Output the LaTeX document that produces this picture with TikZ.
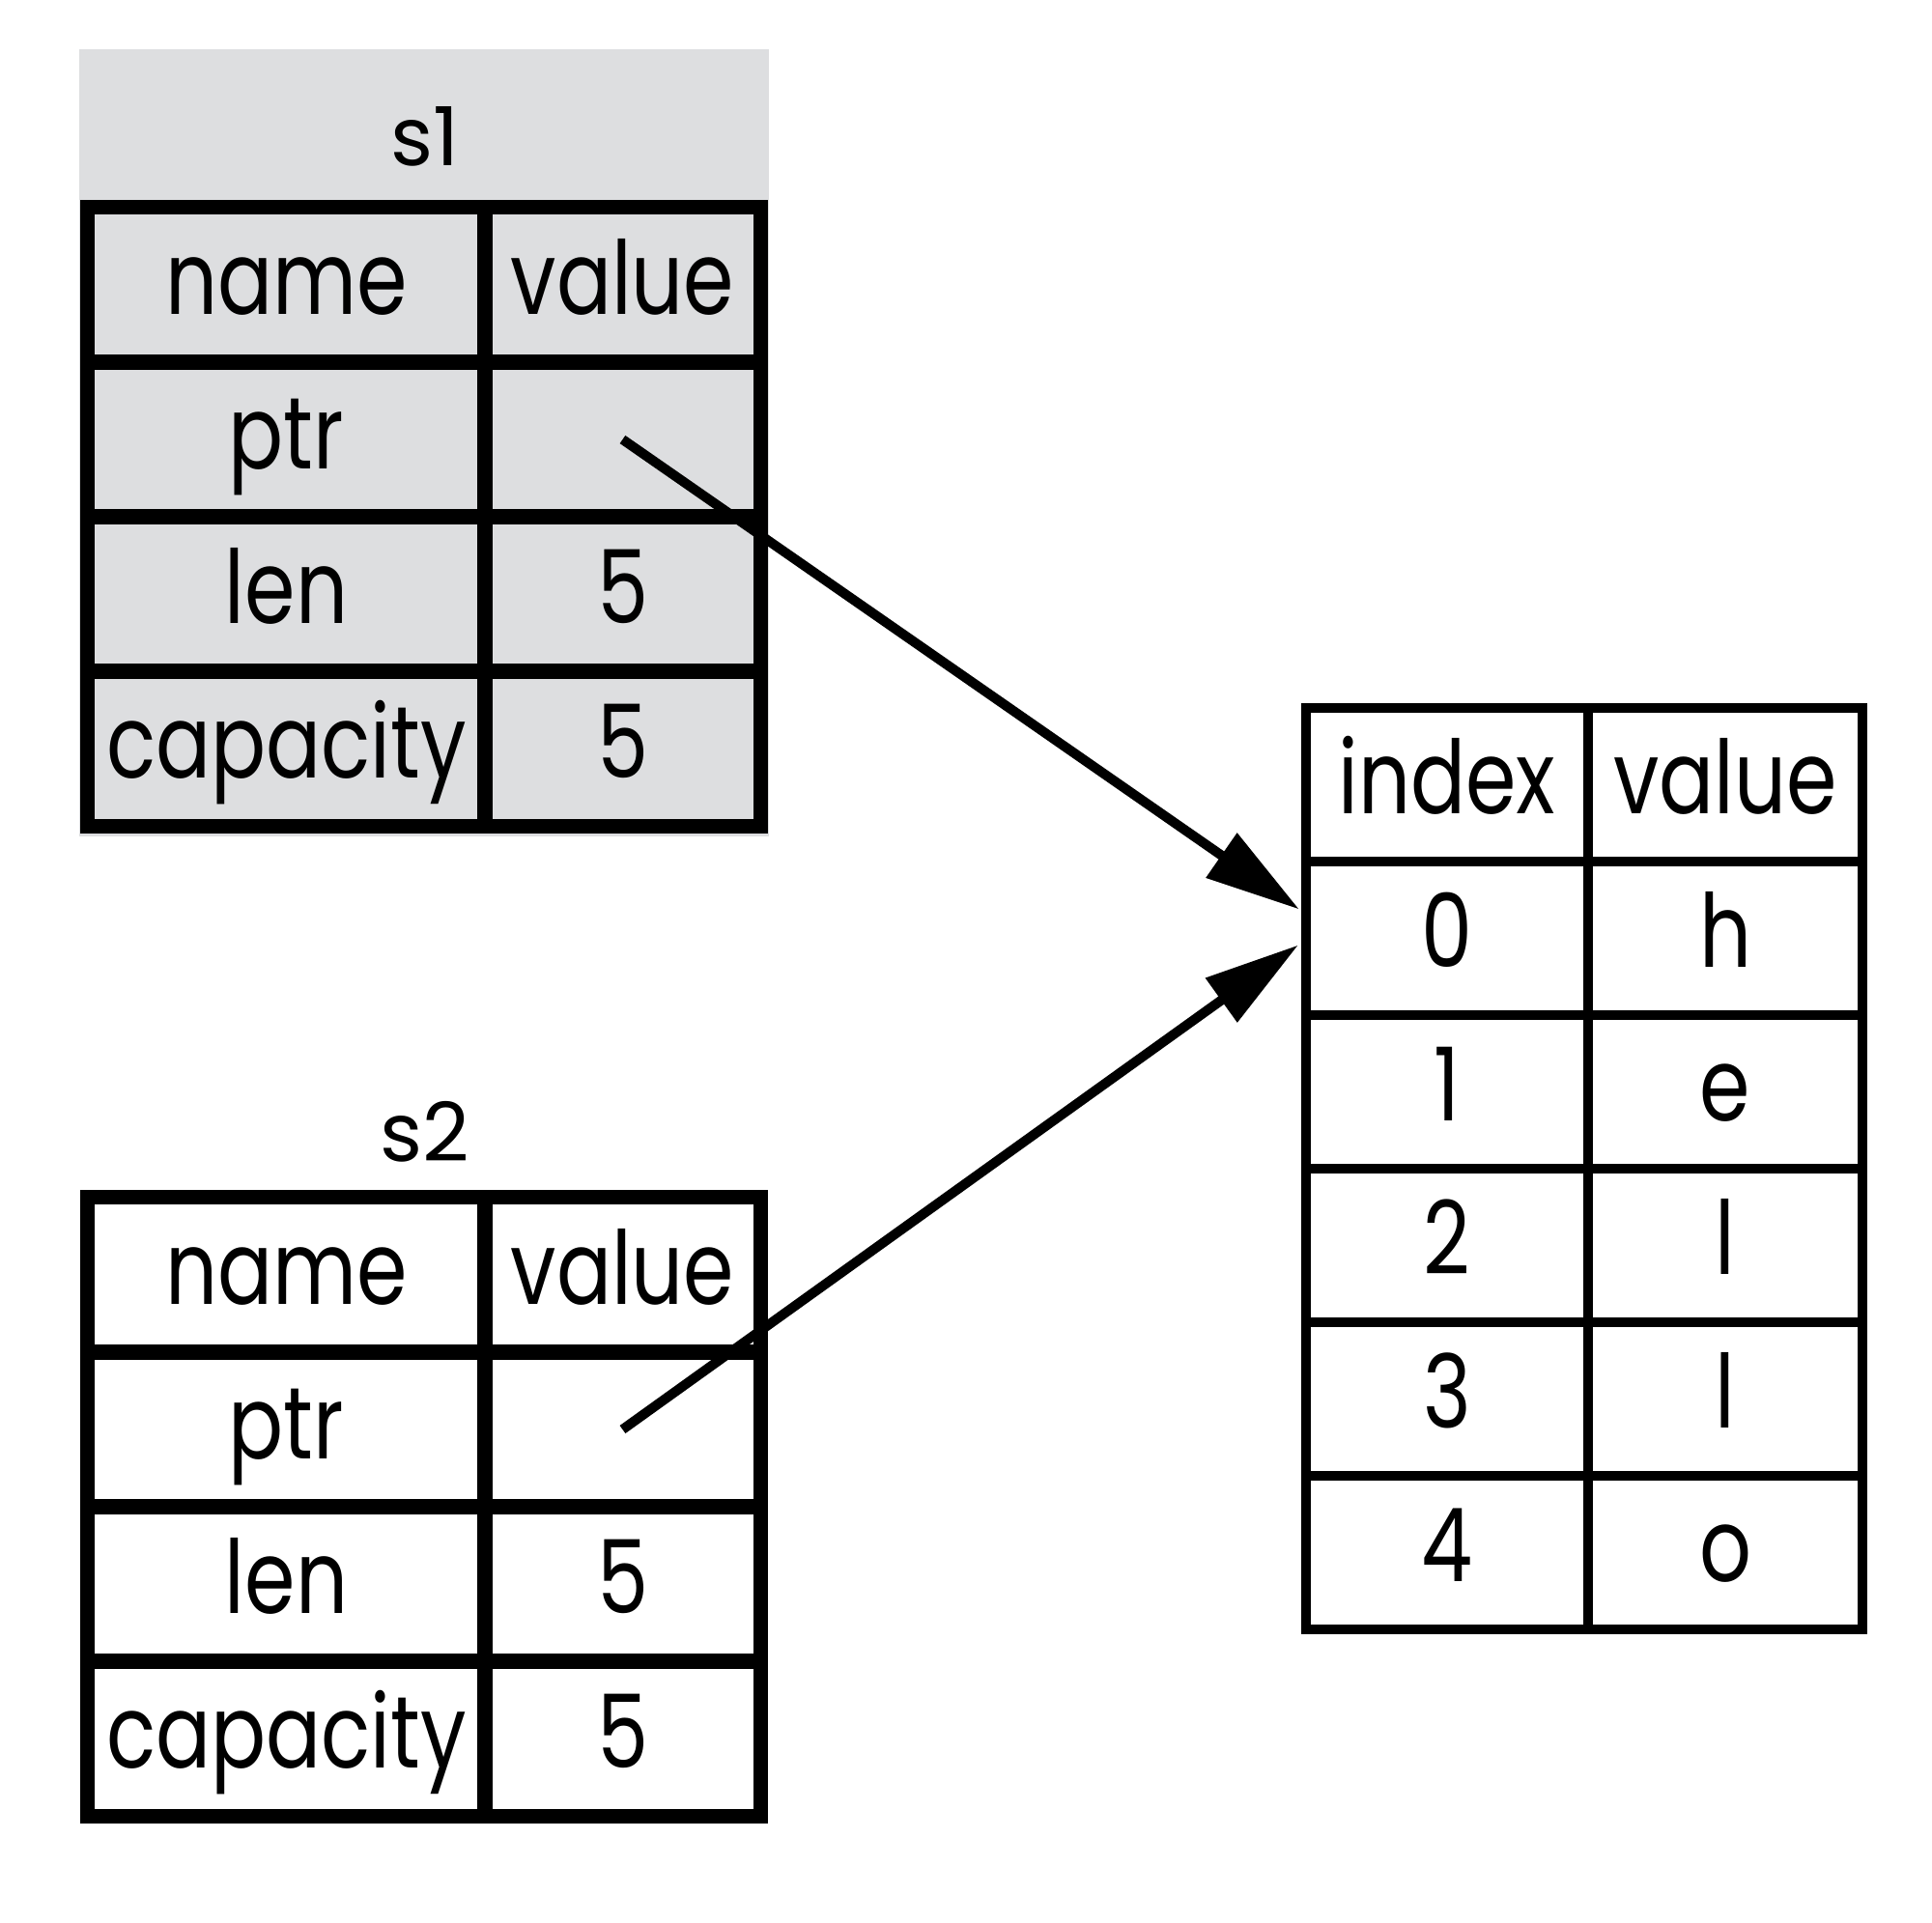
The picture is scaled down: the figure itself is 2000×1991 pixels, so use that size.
\documentclass[tikz,border=0pt]{standalone}
\usepackage{fontspec}
\setmainfont[FakeStretch=0.8]{Poppins}
\newfontfamily\labelfont{Poppins}
\usetikzlibrary{arrows.meta,calc}
\definecolor{stackgray}{RGB}{221,222,224}

\tikzset{
  cellfont/.style={font=\fontsize{30}{35}\selectfont},
  stackcell/.style={draw, line width=0.15cm, inner sep=0pt, outer sep=0pt,
    minimum height=1.6cm, text height=0.8cm, text depth=0.2cm, cellfont},
  namecol/.style={stackcell, minimum width=4.11cm},
  valcol/.style={stackcell, minimum width=2.85cm},
  heapcell/.style={draw, line width=0.1cm, inner sep=0pt, outer sep=0pt,
    minimum height=1.59cm, text height=0.8cm, text depth=0.2cm, cellfont},
  idxcol/.style={heapcell, minimum width=2.92cm},
  chrcol/.style={heapcell, minimum width=2.84cm},
  varlabel/.style={anchor=base, inner sep=0pt, font=\labelfont\fontsize{24}{28}\selectfont},
  ptrarrow/.style={line width=0.1cm, -{Triangle[length=0.98cm,width=0.54cm]}},
}

\begin{document}
\begin{tikzpicture}[x=0.01cm, y=-0.01cm]
  \useasboundingbox (0,0) rectangle (2000,1991);

  % s1: shaded frame
  \node[fill=stackgray, inner sep=0pt, outer sep=0pt, anchor=north west,
        minimum width=7.14cm, minimum height=8.15cm] (s1frame) at (82,51) {};
  \node[varlabel] (s1label) at (440,172) {s1};

  \node[namecol] (s1hn) at (296.5,295) {name};
  \node[valcol]  (s1hv) at (644.5,295) {value};
  \node[namecol] (s1pn) at (296.5,455) {ptr};
  \node[valcol]  (s1pv) at (644.5,455) {};
  \node[namecol] (s1ln) at (296.5,615) {len};
  \node[valcol]  (s1lv) at (644.5,615) {5};
  \node[namecol] (s1cn) at (296.5,775) {capacity};
  \node[valcol]  (s1cv) at (644.5,775) {5};

  % s2
  \node[varlabel] (s2label) at (440,1202) {s2};

  \node[namecol] (s2hn) at (296.5,1320) {name};
  \node[valcol]  (s2hv) at (644.5,1320) {value};
  \node[namecol] (s2pn) at (296.5,1480) {ptr};
  \node[valcol]  (s2pv) at (644.5,1480) {};
  \node[namecol] (s2ln) at (296.5,1640) {len};
  \node[valcol]  (s2lv) at (644.5,1640) {5};
  \node[namecol] (s2cn) at (296.5,1800) {capacity};
  \node[valcol]  (s2cv) at (644.5,1800) {5};

  % heap buffer
  \node[idxcol] (hhi) at (1498,812.5)  {index};
  \node[chrcol] (hhv) at (1786,812.5)  {value};
  \node[idxcol] (h0i) at (1498,971.5)  {0};
  \node[chrcol] (h0v) at (1786,971.5)  {h};
  \node[idxcol] (h1i) at (1498,1130.5) {1};
  \node[chrcol] (h1v) at (1786,1130.5) {e};
  \node[idxcol] (h2i) at (1498,1289.5) {2};
  \node[chrcol] (h2v) at (1786,1289.5) {l};
  \node[idxcol] (h3i) at (1498,1448.5) {3};
  \node[chrcol] (h3v) at (1786,1448.5) {l};
  \node[idxcol] (h4i) at (1498,1607.5) {4};
  \node[chrcol] (h4v) at (1786,1607.5) {o};

  % pointers into the buffer
  \coordinate (tipA) at ($(h0i.west)+(-7,-30)$);
  \coordinate (tipB) at ($(h0i.west)+(-8,7)$);
  \draw[ptrarrow] (s1pv.center) -- (tipA);
  \draw[ptrarrow] (s2pv.center) -- (tipB);
\end{tikzpicture}
\end{document}
